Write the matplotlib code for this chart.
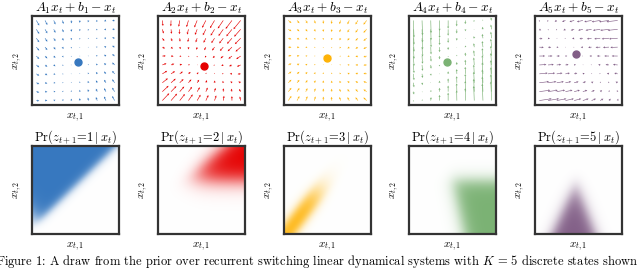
import numpy as np
import matplotlib
matplotlib.use("Agg")
import matplotlib.pyplot as plt
from matplotlib.colors import to_rgb

plt.rcParams['mathtext.fontset'] = 'cm'

# ---- data ----
state_ids = [1, 2, 3, 4, 5]
state_colors = ["#3778bf", "#e50000", "#feb308", "#7bb274", "#825f87"]

# fixed points (dots) of each linear system, in unit-square coordinates
centers_x = [0.53, 0.53, 0.49, 0.44, 0.47]
centers_y = [0.48, 0.44, 0.53, 0.48, 0.57]

# dynamics matrices A_k (x_{t+1} = A_k x_t + b_k); b_k puts the fixed point at the centre
A_mats = [
    [[0.93, 0.00], [0.06, 0.94]],
    [[0.90, -0.08], [-0.04, 0.84]],
    [[0.92, 0.00], [-0.02, 0.91]],
    [[0.98, 0.00], [0.25, 0.80]],
    [[0.85, -0.15], [0.00, 0.96]],
]

# probability regions: each row is a half-plane (a, b, c, sharpness): sigmoid(s*(a*x + b*y + c))
region_blue = [[-0.95, 1.0, -0.07, 28.0], [1.0, 1.0, -0.20, 12.0]]
region_red = [[0.81, -1.0, 0.366, 16.0], [0.0, 1.0, -0.60, 16.0], [1.0, 0.0, -0.42, 10.0]]
region_yellow = [[0.79, -0.61, 0.06, 34.0], [-0.79, 0.61, 0.10, 34.0], [-0.61, -0.79, 0.60, 10.0]]
region_green = [[0.0, -1.0, 0.60, 20.0], [1.0, 0.22, -0.64, 20.0]]
region_purple = [[0.57, -0.27, -0.114, 40.0], [-0.57, -0.22, 0.393, 40.0], [0.0, -1.0, 0.62, 10.0]]
regions = [region_blue, region_red, region_yellow, region_green, region_purple]

grid_pts = np.linspace(0.05, 0.95, 10)

# ---- figure ----
fig = plt.figure(figsize=(6.4, 2.69), dpi=100)
lefts = [32, 158, 284, 409, 535]
W, H = 640.0, 269.0
axw = 87 / W


def style(ax):
    ax.set_xticks([])
    ax.set_yticks([])
    for s in ax.spines.values():
        s.set_linewidth(1.6)
        s.set_color("#333333")
    ax.set_xlim(0, 1)
    ax.set_ylim(0, 1)
    ax.set_xlabel(r"$x_{t,1}$", fontsize=8, labelpad=5)
    ax.set_ylabel(r"$x_{t,2}$", fontsize=8, labelpad=6)


X, Y = np.meshgrid(grid_pts, grid_pts)
gx = np.linspace(0, 1, 300)
GX, GY = np.meshgrid(gx, gx)

for k in range(5):
    col = state_colors[k]
    # top: vector field
    ax = fig.add_axes([lefts[k] / W, (H - 105) / H, axw, 89 / H])
    A = np.array(A_mats[k])
    c = np.array([centers_x[k], centers_y[k]])
    b = (np.eye(2) - A) @ c
    U = A[0, 0] * X + A[0, 1] * Y + b[0] - X
    V = A[1, 0] * X + A[1, 1] * Y + b[1] - Y
    ax.quiver(X, Y, U, V, color=col, angles='xy', scale_units='xy', scale=1,
              width=0.007, headwidth=3.5, headlength=3.5, headaxislength=3.0)
    ax.plot(c[0], c[1], 'o', color=col, ms=5)
    style(ax)
    ax.set_title(r"$A_{%d}x_t + b_{%d} - x_t$" % (state_ids[k], state_ids[k]), fontsize=9.6, pad=3)

    # bottom: probability map
    ax2 = fig.add_axes([lefts[k] / W, (H - 234) / H, axw, 88 / H])
    P = np.ones_like(GX)
    for a_, b_, c_, s_ in regions[k]:
        P *= 1.0 / (1.0 + np.exp(-s_ * (a_ * GX + b_ * GY + c_)))
    rgb = np.array(to_rgb(col))
    img = 1 - P[..., None] * (1 - rgb[None, None, :])
    ax2.imshow(img, extent=[0, 1, 0, 1], origin='lower', interpolation='bilinear', aspect='auto')
    style(ax2)
    ax2.set_title(r"$\mathrm{Pr}(z_{t+1}\!=\!%d\,|\,x_t)$" % state_ids[k], fontsize=9, pad=3)

fig.text(638 / W, 1 - 262 / H,
         r"Figure 1: A draw from the prior over recurrent switching linear dynamical systems with $K\,=\,5$ discrete states shown",
         family="cmr10", fontsize=9.0, ha="right", va="center")

fig.savefig("out.png", dpi=100)
